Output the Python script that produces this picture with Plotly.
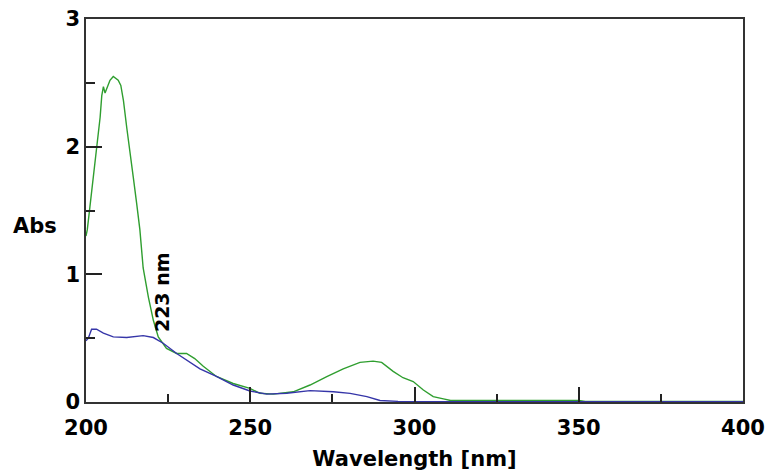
import plotly.graph_objects as go

# Green spectrum (wavelength nm, absorbance)
green_wl = [200.0, 200.4, 201.2, 202.2, 203.2, 204.3, 204.8, 205.3, 205.8, 206.5, 207.3, 208.3,
            209.8, 210.6, 211.4, 212.4, 213.4, 214.4, 215.4, 216.4, 217.4, 219.0, 220.5, 222.0,
            224.5, 227.6, 230.6, 233.1, 235.7, 239.7, 244.8, 249.9, 252.9, 257.0, 263.1, 268.2,
            273.3, 278.3, 283.4, 287.4, 290.0, 293.5, 296.5, 299.6, 302.7, 305.7, 308.8, 311.0,
            330.0, 350.0, 352.0, 400.0]
green_abs = [1.30, 1.35, 1.53, 1.76, 2.00, 2.23, 2.40, 2.47, 2.42, 2.46, 2.52, 2.55,
             2.52, 2.48, 2.36, 2.15, 1.97, 1.76, 1.56, 1.35, 1.05, 0.82, 0.64, 0.51,
             0.42, 0.38, 0.38, 0.34, 0.28, 0.20, 0.145, 0.107, 0.068, 0.062, 0.08, 0.133,
             0.198, 0.26, 0.31, 0.32, 0.31, 0.24, 0.19, 0.16, 0.094, 0.042, 0.024, 0.012,
             0.012, 0.012, 0.004, 0.004]

# Blue spectrum
blue_wl = [200.0, 200.7, 201.7, 203.2, 205.3, 208.3, 212.4, 215.0, 217.4, 220.5, 223.5, 227.6,
           230.6, 234.7, 239.7, 244.8, 249.9, 255.0, 261.1, 268.2, 275.3, 280.4, 285.5, 289.5,
           295.0, 300.0, 350.0, 400.0]
blue_abs = [0.48, 0.50, 0.57, 0.57, 0.54, 0.51, 0.505, 0.51, 0.52, 0.505, 0.46, 0.38,
            0.33, 0.26, 0.20, 0.133, 0.086, 0.062, 0.068, 0.089, 0.08, 0.068, 0.042, 0.012,
            0.005, 0.003, 0.003, 0.003]

x_ticks = [200, 250, 300, 350, 400]
y_ticks = [0, 1, 2, 3]

fig = go.Figure()
fig.add_trace(go.Scatter(x=green_wl, y=green_abs, mode="lines",
                         line=dict(color="#2f9e2f", width=1.4), showlegend=False))
fig.add_trace(go.Scatter(x=blue_wl, y=blue_abs, mode="lines",
                         line=dict(color="#3535a8", width=1.4), showlegend=False))

font_fam = "DejaVu Sans, Arial, sans-serif"

fig.update_layout(
    width=766, height=475,
    margin=dict(l=86, r=23, t=19, b=73, autoexpand=False),
    plot_bgcolor="white", paper_bgcolor="white",
    xaxis=dict(range=[200, 400], tickvals=x_ticks, ticks="inside", ticklen=15,
               tickcolor="#222", tickwidth=1.5, showline=True, linecolor="#333",
               linewidth=1.5, mirror=True, showgrid=False, zeroline=False,
               ticklabelstandoff=6,
               tickfont=dict(family=font_fam, size=21, color="black", weight="bold"),
               minor=dict(dtick=25, ticks="inside", ticklen=8, tickcolor="#222",
                          tickwidth=1.5, showgrid=False),
               title=dict(text="Wavelength [nm]", standoff=12,
                          font=dict(family=font_fam, size=21, color="black", weight="bold"))),
    yaxis=dict(range=[0, 3], tickvals=y_ticks, ticks="inside", ticklen=16,
               tickcolor="#222", tickwidth=1.5, showline=True, linecolor="#333",
               linewidth=1.5, mirror=True, showgrid=False, zeroline=False,
               tickfont=dict(family=font_fam, size=21, color="black", weight="bold"),
               minor=dict(dtick=0.5, ticks="inside", ticklen=9, tickcolor="#222",
                          tickwidth=1.5, showgrid=False)),
    annotations=[
        dict(text="Abs", xref="paper", yref="paper", x=-0.078, y=0.46,
             xanchor="center", yanchor="middle", showarrow=False,
             font=dict(family=font_fam, size=21, color="black", weight="bold")),
        dict(text="223 nm", xref="x", yref="y", x=223.1, y=0.86, textangle=-90,
             xanchor="center", yanchor="middle", showarrow=False,
             font=dict(family=font_fam, size=19, color="black", weight="bold")),
    ],
)

fig.write_html("out.html", config={"displayModeBar": False},
               post_script="document.body.style.margin='0';document.body.style.overflow='hidden';")
